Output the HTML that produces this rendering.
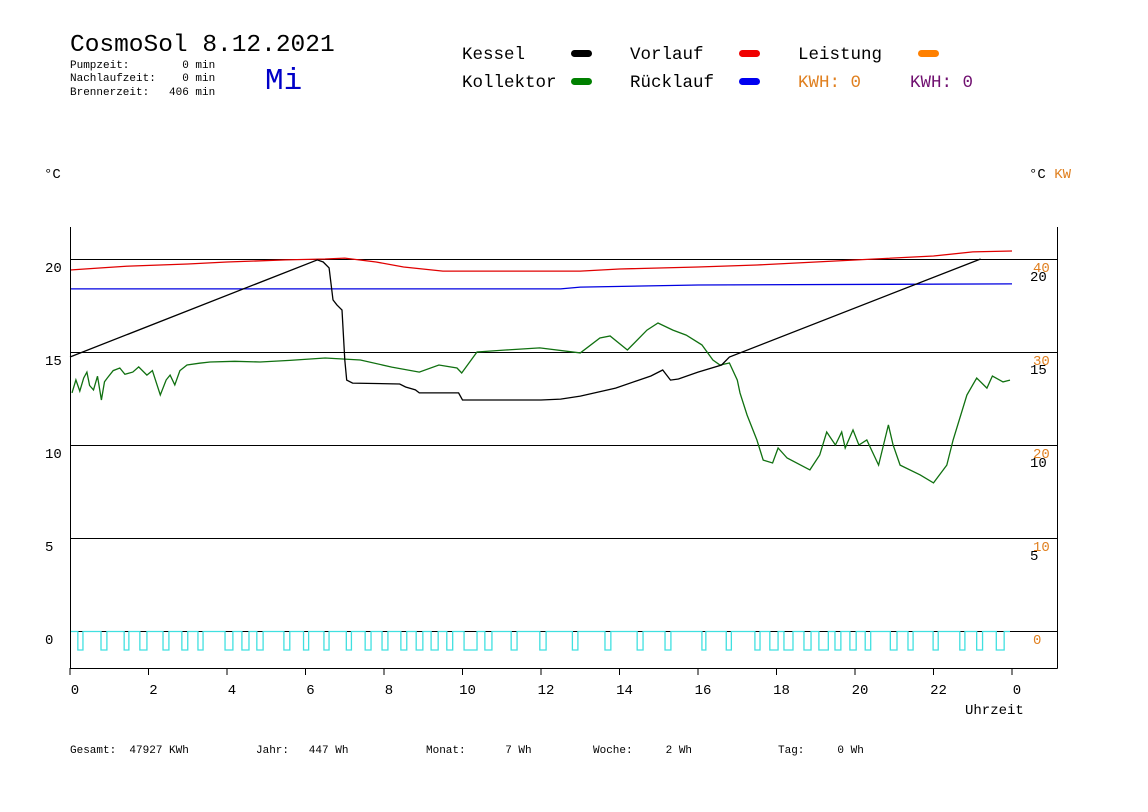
<!DOCTYPE html>
<html><head><meta charset="utf-8"><style>
body{margin:0;background:#fff;}
svg{display:block;font-family:"Liberation Mono",monospace;}
</style></head><body>
<svg id="chart" width="1148" height="812" viewBox="0 0 1148 812" xmlns="http://www.w3.org/2000/svg">
<rect width="1148" height="812" fill="#fff"/>
<text x="70" y="51" font-size="24.5" fill="#000">CosmoSol 8.12.2021</text>
<g font-size="11" fill="#000">
<text x="70" y="68" xml:space="preserve">Pumpzeit:        0 min</text>
<text x="70" y="81" xml:space="preserve">Nachlaufzeit:    0 min</text>
<text x="70" y="95" xml:space="preserve">Brennerzeit:   406 min</text>
</g>
<text x="265" y="89" font-size="31" fill="#0000c8">Mi</text>
<g font-size="17.5">
<text x="462" y="59">Kessel</text>
<rect x="571" y="50" width="21" height="7" rx="3.5" fill="#000"/>
<text x="462" y="87">Kollektor</text>
<rect x="571" y="78" width="21" height="7" rx="3.5" fill="#008000"/>
<text x="630" y="59">Vorlauf</text>
<rect x="739" y="50" width="21" height="7" rx="3.5" fill="#f00000"/>
<text x="630" y="87">Rücklauf</text>
<rect x="739" y="78" width="21" height="7" rx="3.5" fill="#0000f0"/>
<text x="798" y="59">Leistung</text>
<rect x="918" y="50" width="21" height="7" rx="3.5" fill="#ff8000"/>
<text x="798" y="87" fill="#e08020">KWH: 0</text>
<text x="910" y="87" fill="#701070">KWH: 0</text>
</g>
<text x="44" y="178" font-size="14">°C</text>
<text x="1029" y="178" font-size="14">°C <tspan fill="#e08020">KW</tspan></text>
<g id="grid"></g>
<g id="series"></g>
<g id="axes"></g>
<text x="965" y="714" font-size="14">Uhrzeit</text>
<g font-size="11">
<text x="70" y="753" xml:space="preserve">Gesamt:  47927 KWh</text>
<text x="256" y="753" xml:space="preserve">Jahr:   447 Wh</text>
<text x="426" y="753" xml:space="preserve">Monat:      7 Wh</text>
<text x="593" y="753" xml:space="preserve">Woche:     2 Wh</text>
<text x="778" y="753" xml:space="preserve">Tag:     0 Wh</text>
</g>
</svg>
<script>
const xTicks = [0,2,4,6,8,10,12,14,16,18,20,22,24];
const xTickLabels = ["0","2","4","6","8","10","12","14","16","18","20","22","0"];
const yGrid = [0,5,10,15,20];
const leftLabels = ["0","5","10","15","20"];
const rightTempLabels = ["","5","10","15","20"];
const rightKwLabels = ["0","10","20","30","40"];
const kesselH = [0,6.3,6.45,6.6,6.7,6.8,6.93,7.0,7.05,7.2,8.4,8.55,8.8,8.9,9.9,10,12,12.5,13,13.9,14.8,15.1,15.3,15.5,16,16.6,16.8,23.2];
const kesselT = [14.73,19.95,19.84,19.52,17.8,17.53,17.26,14.57,13.49,13.33,13.28,13.12,12.96,12.8,12.8,12.42,12.42,12.47,12.63,13.06,13.71,14.03,13.49,13.55,13.92,14.3,14.73,20.0];
const vorlaufH = [0,0.8,1.5,3,4,5.5,6.5,7,7.8,8.5,9.5,13,14,16,17.5,19,20.5,22,23,24];
const vorlaufT = [19.41,19.52,19.62,19.73,19.84,19.95,20.0,20.05,19.84,19.57,19.35,19.35,19.46,19.57,19.68,19.84,20.0,20.16,20.38,20.43];
const ruecklaufH = [0,12.5,13,16,24];
const ruecklaufT = [18.39,18.39,18.49,18.6,18.66];
const kollektorH = [0.05,0.15,0.25,0.35,0.43,0.5,0.6,0.7,0.8,0.88,0.95,1.1,1.27,1.4,1.6,1.75,1.96,2.1,2.3,2.45,2.55,2.67,2.8,2.98,3.3,3.57,4.2,4.84,5.6,6.5,7.4,8.2,8.9,9.4,9.86,9.98,10.37,11.1,11.97,13,13.5,13.76,14.2,14.7,14.98,15.36,15.7,16.1,16.38,16.56,16.8,17.0,17.07,17.25,17.5,17.66,17.9,18.04,18.27,18.85,19.1,19.28,19.5,19.66,19.75,19.95,20.1,20.3,20.6,20.85,20.97,21.15,21.66,22.0,22.34,22.5,22.85,23.1,23.36,23.5,23.77,23.95];
const kollektorT = [12.8,13.5,12.9,13.6,13.92,13.2,12.96,13.7,12.42,13.4,13.6,14.0,14.14,13.8,13.92,14.2,13.76,14.0,12.69,13.5,13.76,13.23,14.0,14.3,14.4,14.46,14.5,14.46,14.55,14.68,14.57,14.19,13.92,14.3,14.14,13.87,15.0,15.11,15.22,14.95,15.75,15.86,15.11,16.18,16.56,16.18,15.91,15.38,14.57,14.3,14.41,13.49,12.8,11.61,10.27,9.19,9.03,9.84,9.3,8.66,9.46,10.7,10.0,10.7,9.84,10.81,10.0,10.27,8.92,11.08,10.0,8.92,8.39,7.96,8.92,10.27,12.69,13.6,13.06,13.71,13.39,13.49];
const pulseStart = [0.2,0.79,1.38,1.78,2.37,2.85,3.26,3.95,4.38,4.76,5.45,5.95,6.47,7.04,7.52,7.95,8.43,8.82,9.2,9.6,10.04,10.57,11.24,11.97,12.8,13.63,14.45,15.16,16.1,16.72,17.45,17.83,18.19,18.7,19.08,19.49,19.87,20.26,20.9,21.35,21.99,22.67,23.1,23.6];
const pulseEnd = [0.33,0.94,1.5,1.96,2.52,3.0,3.39,4.15,4.56,4.92,5.6,6.08,6.6,7.17,7.67,8.1,8.58,8.99,9.38,9.75,10.37,10.75,11.39,12.13,12.94,13.78,14.6,15.31,16.2,16.85,17.58,18.04,18.42,18.88,19.32,19.64,20.03,20.4,21.07,21.48,22.12,22.8,23.25,23.8];

const X0=70, PXH=39.25, Y0=631, PXT=18.6;
function xs(h){return X0+h*PXH;}
function ys(t){return Y0-t*PXT;}
const NS="http://www.w3.org/2000/svg";
function mk(tag,parent){const e=document.createElementNS(NS,tag);parent.appendChild(e);return e;}
const grid=document.getElementById('grid'), series=document.getElementById('series'), axes=document.getElementById('axes');

yGrid.forEach((t,i)=>{
  const l=mk('line',grid);
  
  
  l.setAttribute('x1',X0);l.setAttribute('x2',1057);l.setAttribute('y1',ys(t)+0.5);l.setAttribute('y2',ys(t)+0.5);
  l.setAttribute('stroke','#000');l.setAttribute('stroke-width','1');
  const a=mk('text',axes);
  
  
  a.setAttribute('x',45);a.setAttribute('y',ys(t)+13);a.setAttribute('font-size','14');a.textContent=leftLabels[i];
  if(rightTempLabels[i]){
    const b=mk('text',axes);
    
    
    b.setAttribute('x',1030);b.setAttribute('y',ys(t)+22);b.setAttribute('font-size','14');b.textContent=rightTempLabels[i];
  }
  const c=mk('text',axes);
  
  
  c.setAttribute('x',1033);c.setAttribute('y',ys(t)+13);c.setAttribute('font-size','14');c.setAttribute('fill','#e08020');c.textContent=rightKwLabels[i];
});

function line(H,T,color,name,step){
  const p=mk('polyline',series);
  
  
  p.setAttribute('points',H.map((h,i)=>xs(h).toFixed(1)+','+ys(T[i]).toFixed(1)).join(' '));
  p.setAttribute('fill','none');p.setAttribute('stroke',color);p.setAttribute('stroke-width','1.3');
}
let d='M'+X0+','+(Y0+0.5);
pulseStart.forEach((s,i)=>{const a=xs(s),b=xs(pulseEnd[i]);d+=' L'+a+','+(Y0+0.5)+' L'+a+',650 L'+b+',650 L'+b+','+(Y0+0.5);});
d+=' L1010,'+(Y0+0.5);
const pu=mk('path',series);


pu.setAttribute('d',d);pu.setAttribute('fill','none');pu.setAttribute('stroke','#40e0e0');pu.setAttribute('stroke-width','1.3');

line(ruecklaufH,ruecklaufT,'#0000e0','ruecklauf-line');
line(vorlaufH,vorlaufT,'#e00000','vorlauf-line');
line(kollektorH,kollektorT,'#107010','kollektor-line');
line(kesselH,kesselT,'#000','kessel-line');

[[70.5,227,70.5,668.5],[70,668.5,1057.5,668.5],[1057.5,227,1057.5,668.5]].forEach((c,i)=>{
  const l=mk('line',axes);
  
  
  l.setAttribute('x1',c[0]);l.setAttribute('y1',c[1]);l.setAttribute('x2',c[2]);l.setAttribute('y2',c[3]);
  l.setAttribute('stroke','#000');
});
xTicks.forEach((h,i)=>{
  const t=mk('line',axes);
  
  
  t.setAttribute('x1',xs(h));t.setAttribute('x2',xs(h));t.setAttribute('y1',668);t.setAttribute('y2',675);t.setAttribute('stroke','#000');
  const a=mk('text',axes);
  
  
  a.setAttribute('x',xs(h)+5);a.setAttribute('y',694);a.setAttribute('font-size','14');a.setAttribute('text-anchor','middle');a.textContent=xTickLabels[i];
});
</script>
</body></html>
